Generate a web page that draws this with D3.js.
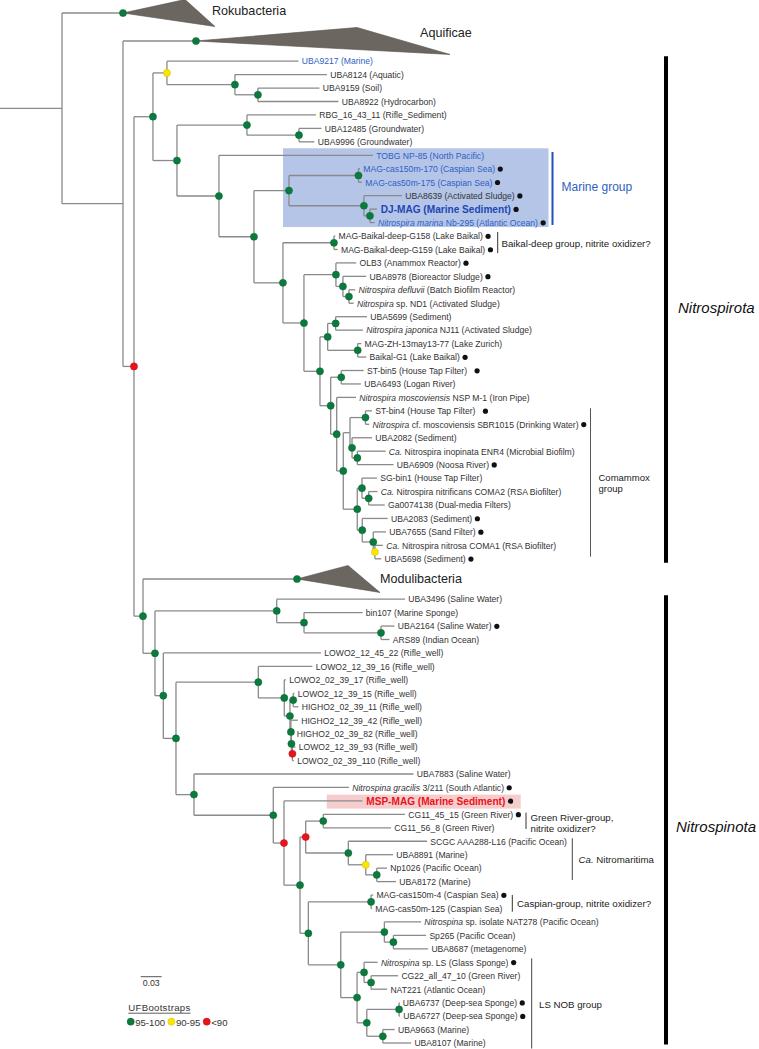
<!DOCTYPE html>
<html><head><meta charset="utf-8">
<script src="https://cdn.jsdelivr.net/npm/d3@7"></script>
<style>body{margin:0;background:#fff}svg{display:block}text{white-space:pre}</style>
</head><body>
<svg id="chart" width="759" height="1049"></svg>
<script>
// ---------------- DATA ----------------
// Newick fragments (branch lengths in substitutions/site; internal labels = UFBootstrap class g/y/r, n = none)
const spirotaBasal = "('UBA9217 (Marine)':0.1879,('UBA8124 (Aquatic)':0.1314,('UBA9159 (Soil)':0.0879,'UBA8922 (Hydrocarbon)':0.115)g:0.0329)g:0.0971)y";
const spirotaRBG = "('RBG_16_43_11 (Rifle_Sediment)':0.0986,('UBA12485 (Groundwater)':0.0321,'UBA9996 (Groundwater)':0.0221)g:0.0743)g";
const marineClade = "(('MAG-cas150m-170 (Caspian Sea)':0.0021,'MAG-cas50m-175 (Caspian Sea)':0.005)g:0.0993,('UBA8639 (Activated Sludge)':0.0543,('DJ-MAG (Marine Sediment)':0.01,'<i>Nitrospira marina</i> Nb-295 (Atlantic Ocean)':0.0067)g:0.0086)g:0.1071)g";
const baikalClade = "('MAG-Baikal-deep-G158 (Lake Baikal)':0.0019,'MAG-Baikal-deep-G159 (Lake Baikal)':0.0053)g";
const defluviiClade = "('OLB3 (Anammox Reactor)':0.029,('UBA8978 (Bioreactor Sludge)':0.0333,('<i>Nitrospira defluvii</i> (Batch Biofilm Reactor)':0.009,'<i>Nitrospira</i> sp. ND1 (Activated Sludge)':0.0067)g:0.0086)g:0.01)g";
const japonicaClade = "(('UBA5699 (Sediment)':0.0447,'<i>Nitrospira japonica</i> NJ11 (Activated Sludge)':0.039)g:0.0114,('MAG-ZH-13may13-77 (Lake Zurich)':0.0051,'Baikal-G1 (Lake Baikal)':0.0123)g:0.0429)g";
const stbin5Clade = "('ST-bin5 (House Tap Filter)':0.032,'UBA6493 (Logan River)':0.0281)g";
const comammoxA = "(('ST-bin4 (House Tap Filter)':0.0093,'<i>Nitrospira</i> cf. moscoviensis SBR1015 (Drinking Water)':0.0054)g:0.0221,('UBA2082 (Sediment)':0.0286,('<i>Ca.</i> Nitrospira inopinata ENR4 (Microbial Biofilm)':0.0403,'UBA6909 (Noosa River)':0.0517)g:0.0076)g:0.0029)n";
const comammoxB = "(('SG-bin1 (House Tap Filter)':0.0214,('<i>Ca.</i> Nitrospira nitrificans COMA2 (RSA Biofilter)':0.0126,'Ga0074138 (Dual-media Filters)':0.0229)g:0.0096)g:0.0067,('UBA2083 (Sediment)':0.0363,('UBA7655 (Sand Filter)':0.0181,('<i>Ca.</i> Nitrospira nitrosa COMA1 (RSA Biofilter)':0.0114,'UBA5698 (Sediment)':0.009)y:0.0024)g:0.0157)g:0.0071)g";
const spongeClade = "('UBA3496 (Saline Water)':0.1833,('bin107 (Marine Sponge)':0.0836,('UBA2164 (Saline Water)':0.0193,'ARS89 (Indian Ocean)':0.0121)g:0.11)g:0.039)g";
const rifleClade = "('LOWO2_12_39_16 (Rifle_well)':0.0774,('LOWO2_02_39_17 (Rifle_well)':0.0024,(('LOWO2_12_39_15 (Rifle_well)':0.0017,'HIGHO2_02_39_11 (Rifle_well)':0.0074)g:0.0047,('HIGHO2_12_39_42 (Rifle_well)':0.01,('HIGHO2_02_39_82 (Rifle_well)':0.0029,('LOWO2_12_39_93 (Rifle_well)':0.0043,'LOWO2_02_39_110 (Rifle_well)':0.0021)r:0.0014)g:0.0007)g:0.0014)g:0.0081)g:0.0371)g";
const nitromaritimaClade = "(('CG11_45_15 (Green River)':0.1167,'CG11_56_8 (Green River)':0.0967)g:0.0251,('SCGC AAA288-L16 (Pacific Ocean)':0.1124,('UBA8891 (Marine)':0.039,('Np1026 (Pacific Ocean)':0.0147,'UBA8172 (Marine)':0.0276)g:0.0157)y:0.0249)g:0.0609)r";
const caspianClade = "('MAG-cas150m-4 (Caspian Sea)':0.0029,'MAG-cas50m-125 (Caspian Sea)':0.0014)g";
const lsnobClade = "(('<i>Nitrospina</i> sp. isolate NAT278 (Pacific Ocean)':0.0524,('Sp265 (Pacific Ocean)':0.0467,'UBA8687 (metagenome)':0.0496)g:0.0129)g:0.0623,(('<i>Nitrospina</i> sp. LS (Glass Sponge)':0.0193,('CG22_all_47_10 (Green River)':0.0386,'NAT221 (Atlantic Ocean)':0.0229)g:0.01)g:0.01,(('UBA6737 (Deep-sea Sponge)':0.0007,'UBA6727 (Deep-sea Sponge)':0.0014)g:0.0461,('UBA9663 (Marine)':0.0169,'UBA8107 (Marine)':0.0404)g:0.0229)g:0.0139)g:0.0233)g";

const lineageII = `(${stbin5Clade}:0.0151,('<i>Nitrospira moscoviensis</i> NSP M-1 (Iron Pipe)':0.0276,(${comammoxA}:0.0096,${comammoxB}:0.02)g:0.0094)g:0.0086)g`;
const nitrospirota = `(${spirotaBasal}:0.02,(${spirotaRBG}:0.1,('TOBG NP-85 (North Pacific)':0.22,(${marineClade}:0.05,(${baikalClade}:0.0729,(${defluviiClade}:0.0457,(${japonicaClade}:0.011,${lineageII}:0.0153)g:0.0229)g:0.03)g:0.0414)g:0.05)g:0.06)g:0.0343)g`;
const nitrospinota = `('Modulibacteria':0.22,(${spongeClade}:0.1739,('LOWO2_12_45_22 (Rifle_well)':0.2253,(${rifleClade}:0.1176,('UBA7883 (Saline Water)':0.3136,('<i>Nitrospina gracilis</i> 3/211 (South Atlantic)':0.1081,('MSP-MAG (Marine Sediment)':0.1121,(${nitromaritimaClade}:0.0081,(${caspianClade}:0.0896,${lsnobClade}:0.0463)g:0.0119)g:0.0229)r:0.0153)g:0.1133)g:0.0257)g:0.0181)g:0.0119)g:0.0171)g`;
const treeNewick = `('Rokubacteria':0.0871,('Aquificae':0.1043,(${nitrospirota}:0.0271,${nitrospinota}:0.0129)r:0.0157)n:0.0871)n:0.0886;`;

const collapsedClades = [
  {name: "Rokubacteria", minTip: 0.0886, maxTip: 0.1314, support: "g"},
  {name: "Aquificae", minTip: 0.23, maxTip: 0.3629, support: "g"},
  {name: "Modulibacteria", minTip: 0.0729, maxTip: 0.1186, support: "g"}
];
const blueLeaves = ["UBA9217", "TOBG", "MAG-cas150m-170", "MAG-cas50m-175", "Nb-295"];
const boldLeaves = ["DJ-MAG", "MSP-MAG"];
const dotLeaves = ["MAG-cas150m-170", "MAG-cas50m-175", "UBA8639", "DJ-MAG", "Nb-295", "G158", "G159", "OLB3", "UBA8978",
  "Baikal-G1", "ST-bin5", "ST-bin4", "SBR1015", "UBA6909", "UBA2083", "UBA7655", "UBA5698", "UBA2164", "gracilis",
  "MSP-MAG", "CG11_45_15", "MAG-cas150m-4 ", "sp. LS", "UBA6737", "UBA6727"];
const highlightLeaves = [{from: "TOBG", to: "Nb-295"}, {from: "MSP-MAG", to: "MSP-MAG"}];
const cladeGroups = [
  {from: "TOBG", to: "Nb-295", lines: ["Marine group"]},
  {from: "G158", to: "G159", lines: ["Baikal-deep group, nitrite oxidizer?"]},
  {from: "ST-bin4", to: "UBA5698", lines: ["Comammox", "group"]},
  {from: "CG11_45_15", to: "CG11_56_8", lines: ["Green River-group,", "nitrite oxidizer?"]},
  {from: "SCGC", to: "UBA8172", lines: ["<i>Ca.</i> Nitromaritima"]},
  {from: "MAG-cas150m-4 ", to: "MAG-cas50m-125", lines: ["Caspian-group, nitrite oxidizer?"]},
  {from: "sp. LS", to: "UBA8107", lines: ["LS NOB group"]}
];
const phyla = [
  {from: "UBA9217", to: "UBA5698", label: "Nitrospirota"},
  {from: "UBA3496", to: "UBA8107", label: "Nitrospinota"}
];
const supportLegend = [{key: "g", label: "95-100"}, {key: "y", label: "90-95"}, {key: "r", label: "<90"}];
const scaleBarValue = 0.03;

// ---------------- STYLE / LAYOUT ----------------
const FONT = "'Liberation Sans', Arial, Helvetica, sans-serif";
const supportColor = {g: "#0b7a3d", y: "#f7e600", r: "#e8141c"};
const supportStroke = {g: "#08612f", y: "#c9b400", r: "#b80f14"};
const branchColor = "#8a8a8a";
const labelColor = "#333";
const blueColor = "#2f5fc4";
const boldColor = {"DJ-MAG": "#1d48b4", "MSP-MAG": "#e8141c"};
const boxLayout = [{x0: 283, x1: 548.5, dTop: -7, dBot: 4.5, fill: "#b4c5e8"},
                   {x0: 326.7, x1: 520.7, dTop: -6.3, dBot: 7.7, fill: "#f6cdcd"}];
const groupLayout = [
  {x: 552.5, dTop: -3.3, dBot: 2.4, color: "#1f4fbf", w: 2, size: 12, tx: 561.5, dy: -1.5, fill: "#2f5fc0"},
  {x: 497.7, dTop: -4, dBot: 3.6, color: "#333", w: 1, size: 9.7, tx: 501.5, dy: 0, fill: "#222"},
  {x: 590.5, dTop: -2.6, dBot: -2.1, color: "#555", w: 1, size: 9.5, tx: 598.5, dy: 0, lh: 10.6, fill: "#222"},
  {x: 526, dTop: -1.7, dBot: 1.2, color: "#333", w: 1, size: 9.7, tx: 530.5, dy: 1.5, lh: 11.6, fill: "#222"},
  {x: 572.3, dTop: -3, dBot: -1.6, color: "#444", w: 1, size: 9.7, tx: 578.5, dy: 0, fill: "#222"},
  {x: 512.3, dTop: -0.1, dBot: 3.2, color: "#333", w: 1, size: 9.7, tx: 517, dy: 0, fill: "#222"},
  {x: 531.7, dTop: -4, dBot: 5.5, color: "#444", w: 1, size: 9.7, tx: 539, dy: 0.5, fill: "#222"}
];
const phylaLayout = [{x: 666, dTop: -5, dBot: 4, tx: 678, dy: -1.5}, {x: 666, dTop: -4, dBot: 1.5, tx: 676, dy: 7}];
const collapsedLabel = {Rokubacteria: {dx: -3, dy: -2.3}, Aquificae: {dx: -30, dy: -8}, Modulibacteria: {dx: 0, dy: 0}};

// ---------------- PARSE ----------------
function parseNewick(s) {
  let i = 0;
  function node() {
    const n = {};
    if (s[i] === "(") {
      i++; n.children = [];
      while (true) {
        n.children.push(node());
        if (s[i] === ",") { i++; continue; }
        if (s[i] === ")") { i++; break; }
        throw new Error("parse error at " + i);
      }
    }
    if (s[i] === "'") { const j = s.indexOf("'", i + 1); n.name = s.slice(i + 1, j); i = j + 1; }
    else { const m = /^[^:,();]*/.exec(s.slice(i)); n.name = m[0]; i += m[0].length; }
    if (s[i] === ":") { i++; const m = /^[0-9.eE+-]+/.exec(s.slice(i)); n.length = +m[0]; i += m[0].length; }
    return n;
  }
  return node();
}

const root = d3.hierarchy(parseNewick(treeNewick), d => d.children);
root.eachBefore(n => { n.dist = (n.parent ? n.parent.dist : 0) + (n.data.length || 0); });
const xScale = d3.scaleLinear().domain([0, scaleBarValue]).range([0, 21]);
const collapsedBy = new Map(collapsedClades.map(c => [c.name, c]));
const leaves = root.leaves();
let row = 0;
leaves.forEach((lf, i) => {
  if (i > 0) {
    const a = collapsedBy.has(leaves[i - 1].data.name), b = collapsedBy.has(lf.data.name);
    row += (a && b) ? 2.08 : (a || b) ? 1.5 : 1;
  }
  lf.row = row;
});
const yScale = d3.scaleLinear().domain([0, row]).range([13, 1043]);
leaves.forEach(l => { l.y = yScale(l.row); });
root.eachAfter(n => {
  if (n.children) n.y = (n.children[0].y + n.children[n.children.length - 1].y) / 2;
  n.x = xScale(n.dist);
});
const leafBy = key => leaves.find(l => l.data.name.includes(key));
const has = (list, name) => list.some(k => name.includes(k));

const svg = d3.select("#chart").attr("font-family", FONT);
svg.append("rect").attr("width", 759).attr("height", 1049).attr("fill", "#fff");

// highlight boxes
svg.append("g").selectAll("rect").data(highlightLeaves).join("rect")
  .attr("x", (d, i) => boxLayout[i].x0)
  .attr("width", (d, i) => boxLayout[i].x1 - boxLayout[i].x0)
  .attr("y", (d, i) => leafBy(d.from).y + boxLayout[i].dTop)
  .attr("height", (d, i) => leafBy(d.to).y + boxLayout[i].dBot - (leafBy(d.from).y + boxLayout[i].dTop))
  .attr("fill", (d, i) => boxLayout[i].fill);

// branches
const gB = svg.append("g").attr("stroke", branchColor).attr("stroke-width", 1.3).attr("fill", "none");
const nodes = root.descendants();
gB.append("path").attr("d", `M0,${root.y}H${root.x}`);
gB.selectAll("path.h").data(nodes.filter(n => n.parent)).join("path").attr("class", "h")
  .attr("d", n => `M${n.parent.x},${n.y}H${n.x}`);
gB.selectAll("path.v").data(nodes.filter(n => n.children)).join("path").attr("class", "v")
  .attr("d", n => `M${n.x},${n.children[0].y}V${n.children[n.children.length - 1].y}`);

// collapsed clades
const collapsedLeaves = leaves.filter(l => collapsedBy.has(l.data.name));
svg.append("g").selectAll("path").data(collapsedLeaves).join("path")
  .attr("d", l => {
    const c = collapsedBy.get(l.data.name);
    return `M${l.x},${l.y}L${xScale(l.dist + c.minTip)},${l.y - 13.5}L${xScale(l.dist + c.maxTip)},${l.y + 13.5}Z`;
  })
  .attr("fill", "#6c6661").attr("stroke", "#55504c").attr("stroke-width", 0.6);
svg.append("g").selectAll("text").data(collapsedLeaves).join("text")
  .attr("x", l => xScale(l.dist + collapsedBy.get(l.data.name).maxTip) + collapsedLabel[l.data.name].dx)
  .attr("y", l => l.y + collapsedLabel[l.data.name].dy)
  .attr("dominant-baseline", "central").attr("font-size", 12.6).attr("fill", "#222")
  .text(l => l.data.name);

// leaf labels
function rich(sel, str) {
  str.split(/(<i>.*?<\/i>)/).filter(s => s).forEach(p => {
    const it = p.startsWith("<i>");
    sel.append("tspan").attr("font-style", it ? "italic" : null).text(it ? p.slice(3, -4) : p);
  });
}
const normalLeaves = leaves.filter(l => !collapsedBy.has(l.data.name));
const gL = svg.append("g");
normalLeaves.forEach(l => {
  const name = l.data.name;
  const bold = boldLeaves.find(k => name.startsWith(k));
  const t = gL.append("text")
    .attr("x", l.x + (bold ? 3.8 : 3.3)).attr("y", l.y + 0.3)
    .attr("dominant-baseline", "central")
    .attr("font-size", bold ? 10.1 : 8.6)
    .attr("font-weight", bold ? "bold" : null)
    .attr("fill", bold ? boldColor[bold] : has(blueLeaves, name) ? blueColor : labelColor);
  rich(t, name);
  l.labelEnd = l.x + (bold ? 3.8 : 3.3) + t.node().getComputedTextLength();
});

// black dots
const spacedDots = ["ST-bin5", "ST-bin4"];
svg.append("g").selectAll("circle").data(normalLeaves.filter(l => has(dotLeaves, l.data.name))).join("circle")
  .attr("cx", l => l.labelEnd + (has(spacedDots, l.data.name) ? 10 : 5.2))
  .attr("cy", l => l.y + 0.3).attr("r", 2.6).attr("fill", "#111");

// support circles
const supportNodes = nodes.filter(n => (n.children && ["g", "y", "r"].includes(n.data.name)) || collapsedBy.has(n.data.name));
svg.append("g").selectAll("circle").data(supportNodes).join("circle")
  .attr("cx", n => n.x).attr("cy", n => n.y).attr("r", 3.6)
  .attr("fill", n => supportColor[n.children ? n.data.name : collapsedBy.get(n.data.name).support])
  .attr("stroke", n => supportStroke[n.children ? n.data.name : collapsedBy.get(n.data.name).support])
  .attr("stroke-width", 0.4);

// clade group brackets
cladeGroups.forEach((g, i) => {
  const L = groupLayout[i];
  const y0 = leafBy(g.from).y + L.dTop, y1 = leafBy(g.to).y + L.dBot;
  svg.append("line").attr("x1", L.x).attr("x2", L.x).attr("y1", y0).attr("y2", y1)
    .attr("stroke", L.color).attr("stroke-width", L.w);
  const mid = (y0 + y1) / 2 + L.dy;
  const lh = L.lh || 0;
  g.lines.forEach((line, k) => {
    const t = svg.append("text").attr("x", L.tx).attr("y", mid + (k - (g.lines.length - 1) / 2) * lh)
      .attr("dominant-baseline", "central").attr("font-size", L.size).attr("fill", L.fill);
    rich(t, line);
  });
});

// phyla bars
phyla.forEach((p, i) => {
  const L = phylaLayout[i];
  const y0 = leafBy(p.from).y + L.dTop, y1 = leafBy(p.to).y + L.dBot;
  svg.append("line").attr("x1", L.x).attr("x2", L.x).attr("y1", y0).attr("y2", y1)
    .attr("stroke", "#000").attr("stroke-width", 4);
  svg.append("text").attr("x", L.tx).attr("y", (y0 + y1) / 2 + L.dy)
    .attr("dominant-baseline", "central").attr("font-size", 15).attr("font-style", "italic").attr("fill", "#111")
    .text(p.label);
});

// scale bar
const sbX = 140.7, sbY = 976.7;
svg.append("line").attr("x1", sbX).attr("x2", sbX + xScale(scaleBarValue)).attr("y1", sbY).attr("y2", sbY)
  .attr("stroke", "#555").attr("stroke-width", 1);
svg.append("text").attr("x", sbX + xScale(scaleBarValue) / 2).attr("y", sbY + 6.5)
  .attr("text-anchor", "middle").attr("dominant-baseline", "central").attr("font-size", 8.8).attr("fill", "#333")
  .text(d3.format(".2f")(scaleBarValue));

// legend
const lgTitle = svg.append("text").attr("x", 128.3).attr("y", 1007.7).attr("dominant-baseline", "central")
  .attr("font-size", 9.6).attr("fill", "#333").attr("letter-spacing", 0.3).text("UFBootstraps");
const tw = lgTitle.node().getComputedTextLength();
svg.append("line").attr("x1", 128.3).attr("x2", 128.3 + tw).attr("y1", 1013.2).attr("y2", 1013.2)
  .attr("stroke", "#333").attr("stroke-width", 0.8);
let lx = 130.7;
supportLegend.forEach(s => {
  svg.append("circle").attr("cx", lx).attr("cy", 1021.7).attr("r", 3.6)
    .attr("fill", supportColor[s.key]).attr("stroke", supportStroke[s.key]).attr("stroke-width", 0.4);
  const t = svg.append("text").attr("x", lx + 4.5).attr("y", 1022).attr("dominant-baseline", "central")
    .attr("font-size", 9.6).attr("fill", "#333").text(s.label);
  lx = lx + 4.5 + t.node().getComputedTextLength() + 6.3;
});
</script>
</body></html>
